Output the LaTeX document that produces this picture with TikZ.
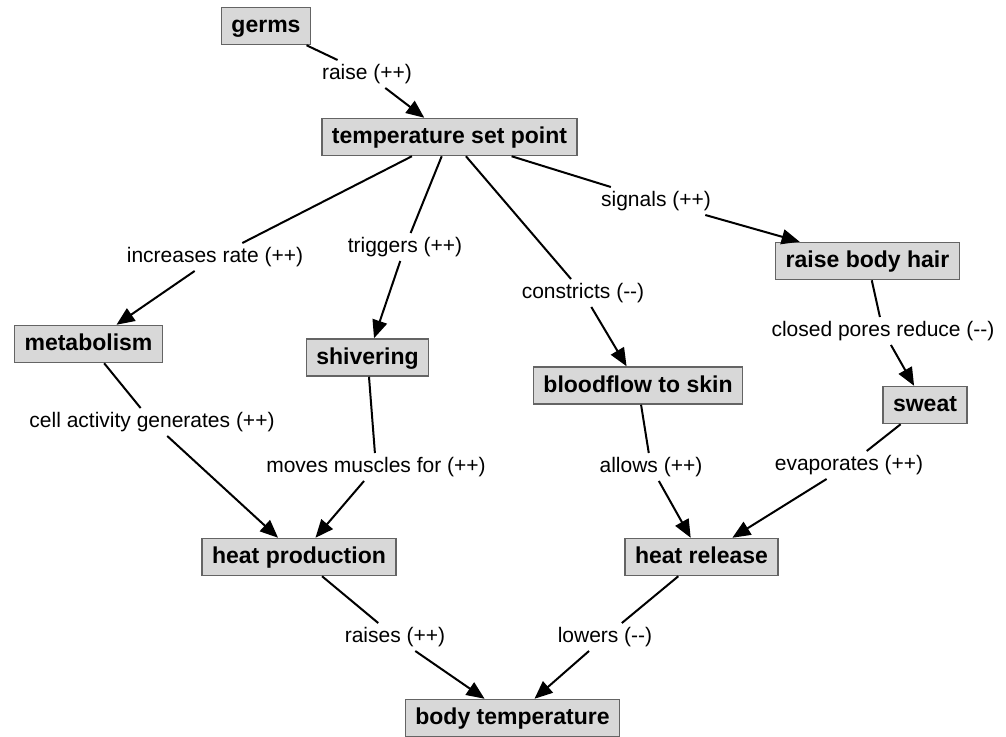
\documentclass[tikz,border=0pt]{standalone}
\usepackage{fontspec}
\setmainfont{Liberation Sans}
\usepackage{tikz}
\usetikzlibrary{arrows.meta}

\definecolor{boxfill}{RGB}{216,216,216}
\definecolor{boxline}{RGB}{100,100,100}
\tikzset{
  concept/.style={draw=boxline,fill=boxfill,line width=1.5pt,inner xsep=10pt,inner ysep=0pt,
    minimum height=37pt,text height=17pt,text depth=4pt,font=\bfseries\fontsize{23}{26}\selectfont},
  phrase/.style={inner sep=4pt,font=\fontsize{21}{24}\selectfont},
  link/.style={line width=2pt},
  linkto/.style={line width=2pt,-{Triangle[length=18pt,width=15pt]}}
}

\begin{document}
\begin{tikzpicture}[x=1pt,y=-1pt]
\useasboundingbox (0,0) rectangle (1006,736);
% concepts
\node (germs) at (266,26) [concept]{germs};
\node (setpoint) at (449.5,137) [concept]{temperature set point};
\node (metab) at (88.5,344) [concept]{metabolism};
\node (shiver) at (367.5,357.5) [concept]{shivering};
\node (blood) at (638,385.5) [concept]{bloodflow to skin};
\node (hair) at (867.5,261) [concept]{raise body hair};
\node (sweat) at (925,405) [concept]{sweat};
\node (heatprod) at (299,557) [concept]{heat production};
\node (heatrel) at (701.5,557) [concept]{heat release};
\node (bodytemp) at (512.5,718) [concept]{body temperature};
% linking phrases
\node (raise) at (367,74) [phrase]{raise (++)};
\node (incr) at (215,257) [phrase]{increases rate (++)};
\node (trig) at (405,247) [phrase]{triggers (++)};
\node (constr) at (583,293) [phrase]{constricts (-{}-)};
\node (signals) at (656,201) [phrase]{signals (++)};
\node (pores) at (883,331) [phrase]{closed pores reduce (-{}-)};
\node (cellact) at (152,422) [phrase]{cell activity generates (++)};
\node (muscles) at (376,467) [phrase]{moves muscles for (++)};
\node (allows) at (651,467) [phrase]{allows (++)};
\node (evap) at (849,465) [phrase]{evaporates (++)};
\node (raises) at (395,637) [phrase]{raises (++)};
\node (lowers) at (605,637) [phrase]{lowers (-{}-)};
% connectors
\draw [link] (germs) -- (raise);
\draw [linkto] (raise) -- (setpoint);
\draw [link] (setpoint) -- (incr);
\draw [linkto] (incr) -- (metab);
\draw [link] (setpoint) -- (trig);
\draw [linkto] (trig) -- (shiver);
\draw [link] (setpoint) -- (constr);
\draw [linkto] (constr) -- (blood);
\draw [link] (setpoint) -- (signals);
\draw [linkto] (signals) -- (hair);
\draw [link] (hair) -- (pores);
\draw [linkto] (pores) -- (sweat);
\draw [link] (metab) -- (cellact);
\draw [linkto] (cellact) -- (heatprod);
\draw [link] (shiver) -- (muscles);
\draw [linkto] (muscles) -- (heatprod);
\draw [link] (blood) -- (allows);
\draw [linkto] (allows) -- (heatrel);
\draw [link] (sweat) -- (evap);
\draw [linkto] (evap) -- (heatrel);
\draw [link] (heatprod) -- (raises);
\draw [linkto] (raises) -- (bodytemp);
\draw [link] (heatrel) -- (lowers);
\draw [linkto] (lowers) -- (bodytemp);
\end{tikzpicture}
\end{document}
